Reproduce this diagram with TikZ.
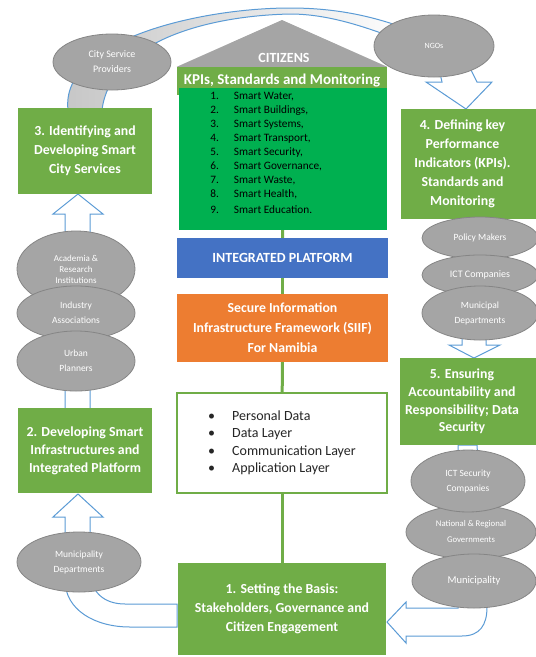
\documentclass[tikz,border=0pt]{standalone}
\usepackage{fontspec}
\setmainfont{Carlito}
\usetikzlibrary{shapes.geometric}

\definecolor{stagegreen}{HTML}{70AD47}
\definecolor{listgreen}{HTML}{00B050}
\definecolor{platblue}{HTML}{4472C4}
\definecolor{siiforange}{HTML}{ED7D31}
\definecolor{actorgray}{HTML}{A5A5A5}
\definecolor{actoredge}{HTML}{858585}
\definecolor{flowblue}{HTML}{5B9BD5}
\definecolor{bandgray}{HTML}{C6C6C6}

\tikzset{
  panel/.style={rectangle, inner sep=0pt, align=center, text=white,
    font=\bfseries\fontsize{13.8}{19}\selectfont},
  stage/.style={panel, fill=stagegreen},
  actor/.style={ellipse, fill=actorgray, draw=actoredge, line width=0.8pt,
    inner sep=0pt, align=center, text=white, font=\fontsize{9.5}{15}\selectfont},
  flow/.style={draw=flowblue, line width=1pt, fill=white, line join=miter},
  link/.style={draw=stagegreen, line width=3pt},
}

\begin{document}
\begin{tikzpicture}[x=1pt,y=-1pt]
  \useasboundingbox (0,0) rectangle (536,657);
  \clip (0,0) rectangle (536,657);
  \begin{scope}
    \path[draw=flowblue, line width=1pt, left color=bandgray, middle color=bandgray, right color=white]
      (68,110) .. controls (60,40) and (200,8) .. (290,8)
      .. controls (330,8) and (370,14) .. (415,32) -- (415,46)
      .. controls (370,28) and (330,14) .. (290,14)
      .. controls (200,16) and (110,45) .. (102,110) -- cycle;
    \filldraw[flow] (437,60) -- (442,82) -- (426,82) -- (466,109) -- (492,82) -- (477,82) -- (466,60) -- cycle;
    \filldraw[flow] (65,409) -- (65,214) -- (53,214) -- (78,194) -- (103,214) -- (90,214) -- (90,409) -- cycle;
    \filldraw[flow] (177,604) -- (125,604) .. controls (104,604) and (90,592) .. (90,570)
      -- (90,517) -- (103,517) -- (78,494) -- (53,517) -- (65,517) -- (65,580)
      .. controls (65,610) and (95,627) .. (130,627) -- (177,627) -- cycle;
    \filldraw[flow] (462,225) -- (462,345) -- (449,345) -- (474,358) -- (500,345) -- (486,345) -- (486,225) -- cycle;
    \filldraw[flow] (458,445) -- (458,608) -- (406,608) -- (406,602) -- (387,622) -- (406,643) -- (406,636)
      -- (462,636) .. controls (480,636) and (487,625) .. (487,607) -- (477,445) -- cycle;
  \end{scope}

  \node[stage, minimum width=134pt, minimum height=86pt] (stagethree) at (85,151)
    {3. Identifying and\\Developing Smart\\City Services};
  \node[stage, minimum width=134pt, minimum height=85pt, font=\bfseries\fontsize{13.8}{18}\selectfont] (stagetwo) at (85,450.5)
    {2. Developing Smart\\Infrastructures and\\Integrated Platform};
  \node[stage, minimum width=208pt, minimum height=92pt] (stageone) at (282,609)
    {1. Setting the Basis:\\Stakeholders, Governance and\\Citizen Engagement};
  \node[stage, minimum width=123pt, minimum height=110pt] (stagefour) at (462.5,164)
    {4. Defining key\\Performance\\Indicators (KPIs).\\Standards and\\Monitoring};
  \node[stage, minimum width=124pt, minimum height=87pt, font=\bfseries\fontsize{13.8}{17.7}\selectfont] (stagefive) at (462,401.5)
    {5. Ensuring\\Accountability and\\Responsibility; Data\\Security};
  \fill[stagegreen] ([xshift=-1pt]stagefour.north east) rectangle ([xshift=16pt]stagefour.south east);
  \fill[stagegreen] ([xshift=-1pt]stagefive.north east) rectangle ([xshift=16pt]stagefive.south east);

  \node[stage, minimum width=210pt, minimum height=28pt, font=\bfseries\fontsize{15}{18}\selectfont] (kpi) at (282,81)
    {KPIs, Standards and Monitoring};
  \fill[actorgray] (kpi.north west) -- (282,20) -- (kpi.north east) -- cycle;
  \node[font=\bfseries\fontsize{14}{16}\selectfont, text=white] (citizens) at (284,58) {CITIZENS};
  \node[rectangle, fill=listgreen, minimum width=208pt, minimum height=142pt, inner sep=0pt,
    text=black, font=\fontsize{11.3}{14}\selectfont] (smartlist) at (283,159)
    {\begin{tabular}{@{}r@{\hspace{15pt}}l@{\hspace{33.6pt}}}
      1. & Smart Water,\\
      2. & Smart Buildings,\\
      3. & Smart Systems,\\
      4. & Smart Transport,\\
      5. & Smart Security,\\
      6. & Smart Governance,\\
      7. & Smart Waste,\\
      8. & Smart Health,\\[2pt]
      9. & Smart Education.\\[10pt]
    \end{tabular}};
  \node[panel, fill=platblue, minimum width=211pt, minimum height=40pt, font=\bfseries\fontsize{14}{18}\selectfont] (platform) at (282.5,258)
    {INTEGRATED PLATFORM};
  \node[panel, fill=siiforange, minimum width=211pt, minimum height=68pt, font=\bfseries\fontsize{13.8}{20}\selectfont] (siif) at (282.5,328)
    {Secure Information\\Infrastructure Framework (SIIF)\\For Namibia};
  \node[rectangle, fill=white, draw=stagegreen, line width=1.5pt, minimum width=210pt, minimum height=100pt,
    inner sep=0pt, text=black!85, font=\fontsize{14}{17.5}\selectfont] (layers) at (282,443)
    {\begin{tabular}{@{}l@{\hspace{17pt}}l@{}}
      \textbullet & Personal Data\\
      \textbullet & Data Layer\\
      \textbullet & Communication Layer\\
      \textbullet & Application Layer\\
    \end{tabular}};

  \draw[link] (smartlist) -- (platform);
  \draw[link] (platform) -- (siif);
  \draw[link] (siif) -- (layers);
  \draw[link] (layers) -- (stageone);

  \node[actor, minimum width=118pt, minimum height=56pt, font=\fontsize{10}{15}\selectfont] (citysp) at (112,62) {City Service\\Providers};
  \node[actor, minimum width=120pt, minimum height=62pt, font=\fontsize{8}{10}\selectfont] (ngos) at (434,46) {NGOs};
  \node[actor, minimum width=118pt, minimum height=76pt, font=\fontsize{9}{11}\selectfont] (academia) at (76,269) {Academia \&\\Research\\Institutions};
  \node[actor, minimum width=118pt, minimum height=54pt] (industry) at (76,313) {Industry\\Associations};
  \node[actor, minimum width=118pt, minimum height=60pt] (urban) at (76,361) {Urban\\Planners};
  \node[actor, minimum width=124pt, minimum height=60pt] (munidept) at (79,562) {Municipality\\Departments};
  \node[actor, minimum width=116pt, minimum height=42pt] (policy) at (480,238) {Policy Makers};
  \node[actor, minimum width=116pt, minimum height=40pt, font=\fontsize{10}{15}\selectfont] (ictco) at (480,275) {ICT Companies};
  \node[actor, minimum width=116pt, minimum height=54pt] (municipal) at (480,313) {Municipal\\Departments};
  \node[actor, minimum width=130pt, minimum height=54pt, font=\fontsize{8.7}{16}\selectfont] (national) at (471,532) {National \& Regional\\Governments};
  \node[actor, minimum width=114pt, minimum height=62pt] (ictsec) at (468,481) {ICT Security\\Companies};
  \node[actor, minimum width=124pt, minimum height=54pt, font=\fontsize{10.5}{15}\selectfont] (municipality) at (474,581) {Municipality};
\end{tikzpicture}
\end{document}
